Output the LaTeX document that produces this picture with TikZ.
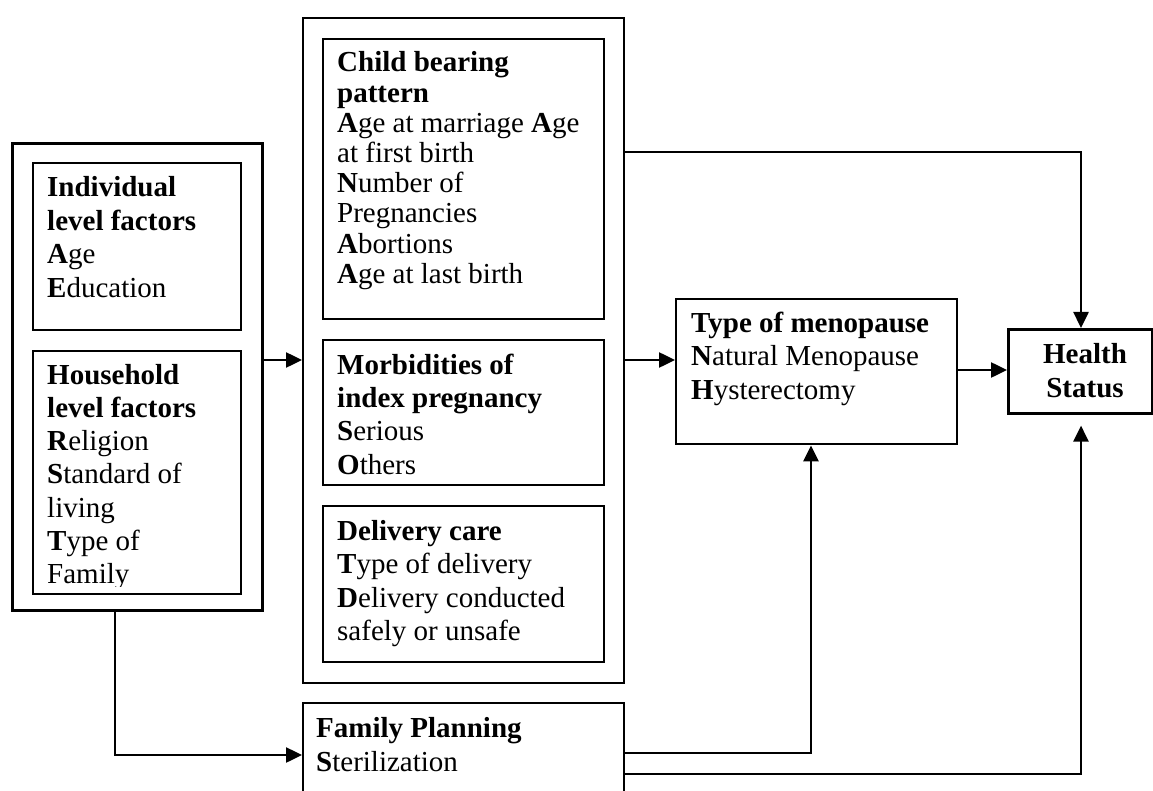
\documentclass[tikz,border=0pt]{standalone}
\usepackage{fontspec}
\setmainfont{Liberation Serif}
\usetikzlibrary{arrows.meta}
\newcommand\blk[2]{\vtop{\baselineskip=#1pt\lineskiplimit=-100pt\halign{##\hfil\cr#2\crcr}}}
\newcommand\cblk[2]{\vtop{\baselineskip=#1pt\lineskiplimit=-100pt\halign{\hfil##\hfil\cr#2\crcr}}}
\begin{document}
\begin{tikzpicture}[x=1pt,y=-1pt,
  boxnode/.style={draw, line width=2.4pt, rectangle, inner sep=0pt, anchor=north west},
  txt/.style={inner sep=0pt, anchor=base west, font=\fontsize{29}{33}\selectfont},
  arr/.style={-{Triangle[length=16pt,width=15pt]}, line width=2.5pt},
  conn/.style={line width=2.5pt}]
\useasboundingbox (0,0) rectangle (1153,791);
% boxes
\node[boxnode, line width=2.9pt, minimum width=250pt, minimum height=467pt] (leftouter) at (11,142) {};
\node[boxnode, minimum width=208pt, minimum height=167pt] (indiv) at (32,162) {};
\node[boxnode, minimum width=208pt, minimum height=243pt] (house) at (32,350) {};
\node[boxnode, minimum width=321pt, minimum height=665pt] (midouter) at (302,17) {};
\node[boxnode, minimum width=281pt, minimum height=280pt] (child) at (322,38) {};
\node[boxnode, minimum width=281pt, minimum height=145pt] (morb) at (322,339) {};
\node[boxnode, minimum width=281pt, minimum height=156pt] (deliv) at (322,505) {};
\node[boxnode, minimum width=281pt, minimum height=145pt] (meno) at (675,298) {};
\node[boxnode, line width=2.6pt, minimum width=144pt, minimum height=84pt] (health) at (1007,328) {};
\node[boxnode, minimum width=321pt, minimum height=110pt] (fp) at (302,702) {};
% texts
\node[txt] (tindiv) at (47,197) {\blk{33.5}{\textbf{Individual}\cr\textbf{level factors}\cr\textbf{A}ge\cr\textbf{E}ducation}};
\begin{scope}
\clip (33,351) rectangle (239,586);
\node[txt] (thouse) at (47,384) {\blk{33.3}{\textbf{Household}\cr\textbf{level factors}\cr\textbf{R}eligion\cr\textbf{S}tandard of\cr living\cr\textbf{T}ype of\cr Family}};
\end{scope}
\node[txt] (tchild) at (337,72) {\blk{30.2}{\textbf{Child bearing}\cr\textbf{pattern}\cr\textbf{A}ge at marriage \textbf{A}ge\cr at first birth\cr\textbf{N}umber of\cr Pregnancies\cr\textbf{A}bortions\cr\textbf{A}ge at last birth}};
\node[txt] (tmorb) at (337,374) {\blk{33.4}{\textbf{Morbidities of}\cr\textbf{index pregnancy}\cr\textbf{S}erious\cr\textbf{O}thers}};
\node[txt] (tdeliv) at (337,540) {\blk{33.6}{\textbf{Delivery care}\cr\textbf{T}ype of delivery\cr\textbf{D}elivery conducted\cr safely or unsafe}};
\node[txt] (tmeno) at (691,332) {\blk{33.5}{\textbf{Type of menopause}\cr\textbf{N}atural Menopause\cr\textbf{H}ysterectomy}};
\node[txt, anchor=base] (thealth) at (1085,363) {\cblk{34}{\textbf{Health}\cr\textbf{Status}}};
\node[txt] (tfp) at (316,737) {\blk{34}{\textbf{Family Planning}\cr\textbf{S}terilization}};
% helper coordinates
\coordinate (ya) at (0,360);
\coordinate (yb) at (0,152);
\coordinate (yc) at (0,370);
\coordinate (yd) at (0,755);
\coordinate (ye) at (0,753);
\coordinate (yf) at (0,774);
\coordinate (xa) at (115,0);
\coordinate (xb) at (811,0);
\coordinate (xc) at (1081,0);
% connectors
\draw[arr] (leftouter.east |- ya) -- (midouter.west |- ya);
\draw[arr] (midouter.east |- ya) -- (meno.west |- ya);
\draw[arr] (midouter.east |- yb) -- (xc |- yb) -- (xc |- health.north);
\draw[arr] (meno.east |- yc) -- (health.west |- yc);
\draw[arr] (xa |- leftouter.south) -- (xa |- yd) -- (fp.west |- yd);
\draw[arr] (fp.east |- ye) -- (xb |- ye) -- (xb |- meno.south);
\draw[arr, shorten >=11pt] (fp.east |- yf) -- (xc |- yf) -- (xc |- health.south);
\end{tikzpicture}
\end{document}
